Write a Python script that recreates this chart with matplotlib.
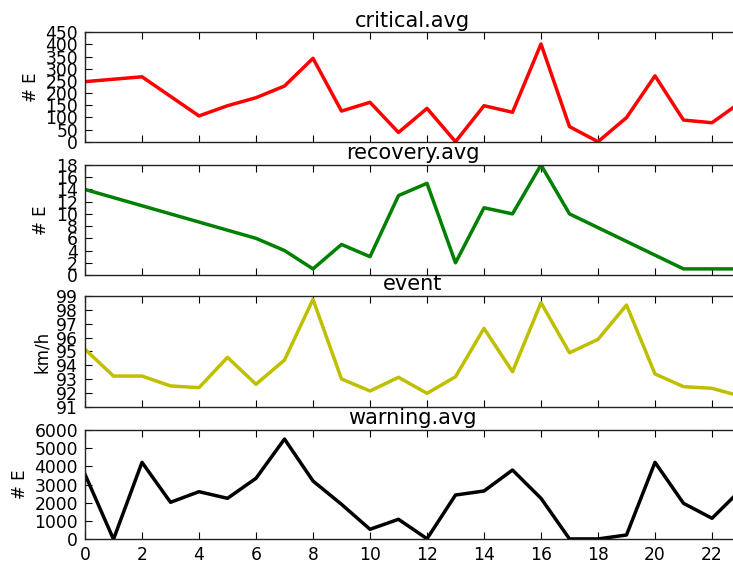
import matplotlib
matplotlib.use("Agg")
import matplotlib.pyplot as plt

# ---- data ----
crit_x = [0, 2, 4, 5, 6, 7, 8, 9, 10, 11, 12, 13, 14, 15, 16, 17, 18, 19, 20, 21, 22, 23]
crit_y = [247, 267, 106, 148, 181, 229, 343, 126, 162, 38, 137, 0, 148, 121, 402, 62, 0, 99, 271, 89, 78, 162]

rec_x = [0, 6, 7, 8, 9, 10, 11, 12, 13, 14, 15, 16, 17, 21, 22, 23]
rec_y = [14, 6, 4, 1, 5, 3, 13, 15, 2, 11, 10, 18, 10, 1, 1, 1]

evt_x = list(range(0, 24))
evt_y = [95.16, 93.24, 93.24, 92.53, 92.41, 94.58, 92.65, 94.39, 98.74, 93.03,
         92.17, 93.15, 92.0, 93.19, 96.66, 93.55, 98.5, 94.91, 95.87, 98.33,
         93.39, 92.48, 92.36, 91.8]

warn_x = list(range(0, 24))
warn_y = [3567, 0, 4226, 2031, 2614, 2250, 3348, 5505, 3200, 1921,
          549, 1098, 30, 2431, 2651, 3803, 2250, 20, 20, 236,
          4226, 1976, 1153, 2700]

titles = ["critical.avg", "recovery.avg", "event", "warning.avg"]
ylabels = ["# E", "# E", "km/h", "# E"]
colors = ["r", "g", "y", "k"]
ylims = [(0, 450), (0, 18), (91, 99), (0, 6000)]
ysteps = [50, 2, 1, 1000]
xticks = list(range(0, 23, 2))

series = [(crit_x, crit_y), (rec_x, rec_y), (evt_x, evt_y), (warn_x, warn_y)]

W, H = 733, 563
fig = plt.figure(figsize=(W / 100, H / 100), dpi=100)
fig.patch.set_facecolor("white")

panels_px = [(32.3, 141.7), (165, 275), (295.7, 407.3), (430, 539.3)]
left = 85 / W
width = (740.5 - 85) / W

for i, ((top, bot), (xs, ys)) in enumerate(zip(panels_px, series)):
    ax = fig.add_axes([left, 1 - bot / H, width, (bot - top) / H])
    ax.plot(xs, ys, color=colors[i], lw=2.5)
    ax.set_xlim(0, 23)
    lo, hi = ylims[i]
    ax.set_ylim(lo, hi)
    step = ysteps[i]
    ticks = []
    v = lo
    while v <= hi + 1e-9:
        ticks.append(v)
        v += step
    ax.set_yticks(ticks)
    ax.set_yticklabels([str(int(t)) for t in ticks])
    ax.set_xticks(xticks)
    if i < 3:
        ax.set_xticklabels([])
    else:
        ax.set_xticklabels([str(t) for t in xticks])
    ax.tick_params(direction="in", top=True, right=True, length=5, width=0.8,
                   labelsize=12.3, pad=5, colors="black")
    for sp in ax.spines.values():
        sp.set_linewidth(1)
        sp.set_color("#222222")
    ax.set_title(titles[i], fontsize=15, pad=4)
    ax.set_ylabel(ylabels[i], fontsize=12)

fig.savefig("out.png", dpi=100, facecolor="white")
